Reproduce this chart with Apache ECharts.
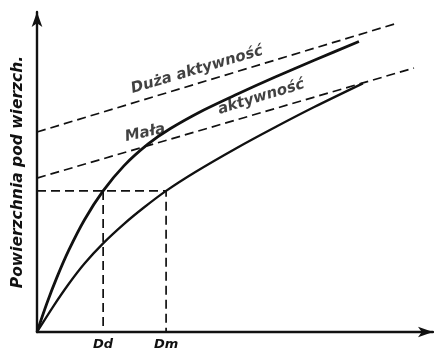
<!DOCTYPE html>
<html>
<head>
<meta charset="utf-8">
<script src="https://cdn.jsdelivr.net/npm/echarts@6/dist/echarts.min.js"></script>
<style>
  html, body { margin: 0; padding: 0; background: #fff; }
  #chart { width: 434px; height: 355px; }
</style>
</head>
<body>
<div id="chart"></div>
<script>
// Surface vs. size curves for high and low activity (arbitrary units)
const highActivity = [
  [0, 0], [2.5, 9.0], [5, 17.0], [8, 25.5], [12, 35.1], [16.7, 44.1],
  [22, 52.0], [28, 58.7], [33.6, 63.5], [42, 69.3], [50.5, 74.3],
  [60, 79.6], [70, 84.9], [81.3, 90.8]
];
const lowActivity = [
  [0, 0], [4, 7.8], [8, 15.0], [12, 21.4], [16.7, 27.7], [22, 33.8],
  [27, 38.9], [32.6, 44.1], [40, 50.0], [50, 57.2], [60, 63.9],
  [70, 70.3], [82.3, 77.7]
];
// Straight-line asymptotes
const highAsymptote = [[0, 62.5], [90.4, 96.3]];
const lowAsymptote = [[0, 48.1], [95.2, 82.5]];
// Equal surface level and the sizes reaching it
const surfaceLevel = 44.1;
const sizeHigh = 16.7;
const sizeLow = 32.6;
const sizeLabels = { [sizeHigh]: 'Dd', [sizeLow]: 'Dm' };

const ink = '#111';
const font = 'DejaVu Sans';

const chart = echarts.init(document.getElementById('chart'), null, { renderer: 'canvas' });

const dashed = { color: ink, width: 1.7, type: [9, 5] };
const textBase = { color: ink, fontFamily: font, fontStyle: 'italic', fontWeight: 'bold' };

chart.setOption({
  backgroundColor: '#fff',
  animation: false,
  grid: { left: 37, right: 1, top: 12, bottom: 23 },
  xAxis: {
    type: 'value', min: 0, max: 100,
    splitLine: { show: false },
    axisTick: { show: false },
    axisLine: { lineStyle: { color: ink, width: 2.4 }, symbol: ['none', 'arrow'], symbolSize: [8, 15] },
    axisLabel: Object.assign({
      customValues: [sizeHigh, sizeLow],
      formatter: v => sizeLabels[v] || '',
      fontSize: 13, margin: 6
    }, textBase)
  },
  yAxis: {
    type: 'value', min: 0, max: 100,
    name: 'Powierzchnia pod wierzch.',
    nameLocation: 'middle', nameRotate: 90, nameGap: 11,
    nameTextStyle: Object.assign({ fontSize: 15.5 }, textBase),
    splitLine: { show: false },
    axisTick: { show: false },
    axisLabel: { show: false },
    axisLine: { lineStyle: { color: ink, width: 2.4 }, symbol: ['none', 'arrow'], symbolSize: [8, 15] }
  },
  series: [
    {
      name: 'Duża aktywność', type: 'line', data: highActivity, smooth: 0.3,
      showSymbol: false, lineStyle: { color: ink, width: 2.8 }
    },
    {
      name: 'Mała aktywność', type: 'line', data: lowActivity, smooth: 0.3,
      showSymbol: false, lineStyle: { color: ink, width: 2.3 }
    },
    { type: 'line', data: highAsymptote, showSymbol: false, lineStyle: dashed },
    { type: 'line', data: lowAsymptote, showSymbol: false, lineStyle: dashed },
    {
      type: 'line', showSymbol: false, lineStyle: dashed,
      data: [[0, surfaceLevel], [sizeLow, surfaceLevel], [sizeLow, 0]]
    },
    {
      type: 'line', showSymbol: false, lineStyle: dashed,
      data: [[sizeHigh, surfaceLevel], [sizeHigh, 0]]
    },
    {
      type: 'scatter', symbolSize: 0, silent: true,
      label: Object.assign({
        show: true, position: 'inside', fontSize: 15,
        formatter: p => p.name
      }, textBase),
      data: [
        { name: 'Duża aktywność', value: [40.4, 81.9], label: { rotate: 16.5 } },
        { name: 'Mała', value: [27.3, 62.2], label: { rotate: 12 } },
        { name: 'aktywność', value: [56.6, 73.4], label: { rotate: 17 } }
      ]
    }
  ]
});
</script>
</body>
</html>
